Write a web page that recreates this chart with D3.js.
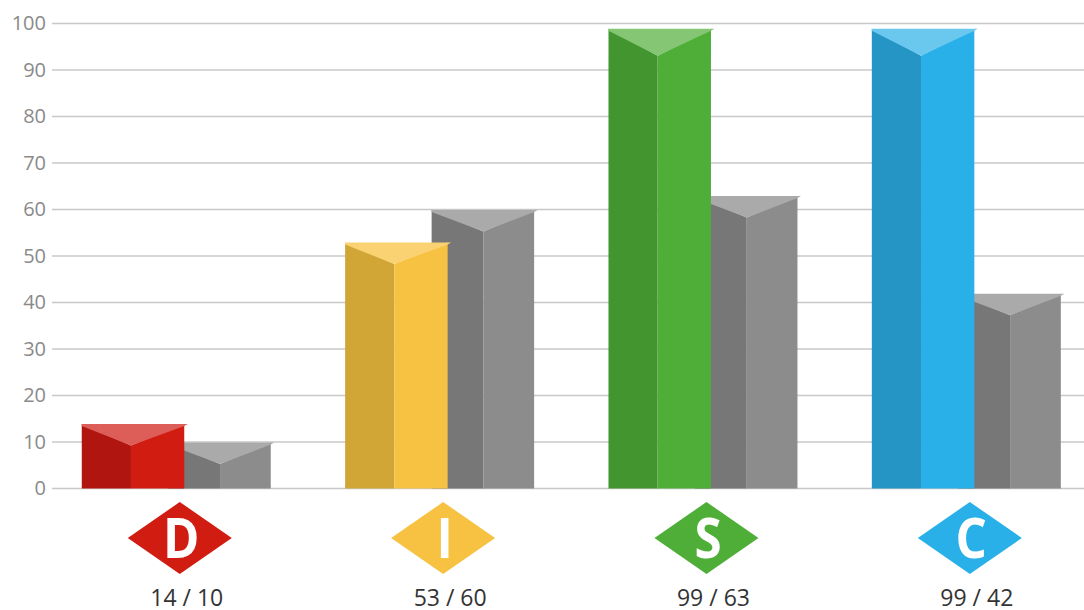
<!DOCTYPE html>
<html><head><meta charset="utf-8">
<script src="https://cdnjs.cloudflare.com/ajax/libs/d3/7.8.5/d3.min.js"></script>
<style>html,body{margin:0;padding:0;background:#fff}svg{display:block}text{font-family:"Open Sans",sans-serif}</style>
</head><body><svg id="c" width="1084" height="610"></svg>
<script>
const categories = ["D","I","S","C"];
const primaryValues = [14,53,99,99];
const secondaryValues = [10,60,63,42];
const yTicks = [0,10,20,30,40,50,60,70,80,90,100];
const front = ["#d01c11","#f7c242","#4fae38","#2ab0e8"];
const side = ["#b0160f","#d1a636","#43962f","#2495c5"];
const cap = ["#dd5e58","#fad272","#84c673","#6ac8ef"];
const grey = {front:"#8c8c8c",side:"#777777",cap:"#aaaaaa"};

const svg = d3.select("#c");
const y = d3.scaleLinear().domain([0,100]).range([488.5,23.5]);
const x = d3.scaleBand().domain(categories).range([44.6,1098]);

svg.append("g").selectAll("line").data(yTicks).join("line")
  .attr("x1",52).attr("x2",1084).attr("y1",d=>y(d)).attr("y2",d=>y(d))
  .attr("stroke","#c8c8c8").attr("stroke-width",1.6);
svg.append("g").selectAll("text").data(yTicks).join("text")
  .attr("x",46).attr("y",d=>y(d)+6.5).attr("text-anchor","end")
  .attr("font-size",20).attr("fill","#8a8a8a").text(d=>d);

function bar(g,left,w,v,c,ratio){
  const t=y(v)+0.5, b=y(0), r=left+w, a=left+w*ratio, drop=v>=90?27:21.5;
  g.append("path").attr("fill",c.side).attr("d",`M${left},${t}L${a},${t+drop}L${a},${b}L${left},${b}Z`);
  g.append("path").attr("fill",c.front).attr("d",`M${r},${t}L${a},${t+drop}L${a},${b}L${r},${b}Z`);
  g.append("path").attr("fill",c.cap).attr("d",`M${left},${t}L${r+3.5},${t}L${r},${t+2}L${a},${t+drop}L${left},${t+2}Z`);
}
categories.forEach((k,i)=>{
  const cx=x(k)+x.bandwidth()/2, g=svg.append("g");
  bar(g,cx-8,102.5,secondaryValues[i],grey,0.505);
  bar(g,cx-94.5,102.5,primaryValues[i],{front:front[i],side:side[i],cap:cap[i]},0.48);
  const dx=cx+3.5;
  svg.append("path").attr("fill",front[i])
    .attr("d",`M${dx-52},538L${dx},502L${dx+52},538L${dx},574Z`);
  svg.append("text").attr("x",dx+1.5).attr("y",558).attr("text-anchor","middle")
    .attr("font-size",56).attr("font-weight",700).attr("fill","#fff")
    .attr("transform",`translate(${(dx+1.5)*0.12},0) scale(0.88,1)`).text(k);
  svg.append("text").attr("x",cx+10.5).attr("y",606).attr("text-anchor","middle")
    .attr("font-size",23).attr("fill","#333").text(`${primaryValues[i]} / ${secondaryValues[i]}`);
});
</script></body></html>
